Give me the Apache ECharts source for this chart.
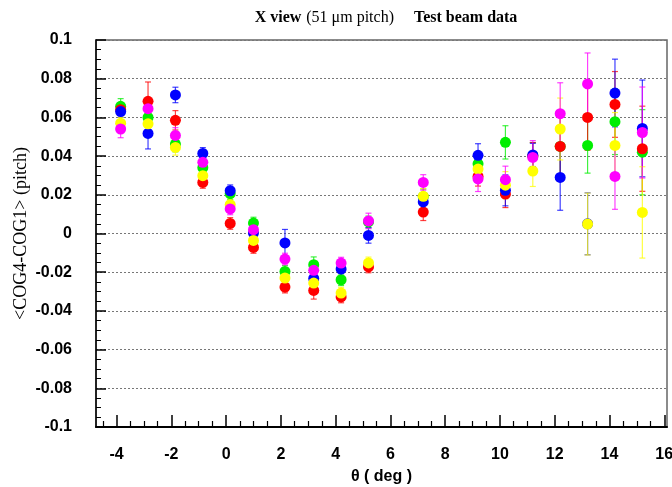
<!DOCTYPE html>
<html>
<head>
<meta charset="utf-8">
<script src="https://cdn.jsdelivr.net/npm/echarts@6/dist/echarts.min.js"></script>
<style>
  html, body { margin: 0; padding: 0; background: #fff; }
  #chart { width: 672px; height: 487px; }
</style>
</head>
<body>
<div id="chart"></div>
<script>
// angle positions (deg)
var theta = [-3.85, -2.85, -1.85, -0.85, 0.15, 1.0, 2.15, 3.2, 4.2, 5.2, 7.2, 9.2, 10.2, 11.2, 12.2, 13.2, 14.2, 15.2];

var greenVals = [0.0657, 0.060, 0.0462, 0.034, 0.0206, 0.0054, -0.0196, -0.0161, -0.0239, 0.006, 0.019, 0.036, 0.0471, 0.040, 0.045, 0.0455, 0.0578, 0.042];
var greenErr = [0.004, 0.004, 0.004, 0.003, 0.003, 0.003, 0.003, 0.004, 0.003, 0.003, 0.004, 0.006, 0.0086, 0.007, 0.016, 0.0143, 0.017, 0.022];

var redVals = [0.064, 0.0683, 0.0585, 0.0264, 0.0052, -0.0072, -0.0277, -0.0294, -0.0328, -0.0173, 0.0111, 0.0295, 0.0204, 0.040, 0.045, 0.060, 0.0667, 0.0438];
var redErr = [0.003, 0.010, 0.005, 0.003, 0.003, 0.003, 0.003, 0.0045, 0.003, 0.003, 0.0044, 0.005, 0.007, 0.007, 0.015, 0.017, 0.017, 0.022];

var blueVals = [0.063, 0.0517, 0.0716, 0.0414, 0.0221, 0.0002, -0.0049, -0.0232, -0.0184, -0.001, 0.0163, 0.0404, 0.0223, 0.0406, 0.029, 0.005, 0.0726, 0.0543];
var blueErr = [0.003, 0.008, 0.004, 0.003, 0.003, 0.003, 0.007, 0.004, 0.004, 0.004, 0.004, 0.006, 0.008, 0.006, 0.017, 0.016, 0.0175, 0.025];

var yellowVals = [0.057, 0.0567, 0.0445, 0.0299, 0.0149, -0.0036, -0.023, -0.0256, -0.0308, -0.0152, 0.0192, 0.0333, 0.025, 0.0323, 0.054, 0.0049, 0.0455, 0.0109];
var yellowErr = [0.003, 0.004, 0.004, 0.003, 0.003, 0.003, 0.004, 0.003, 0.003, 0.003, 0.004, 0.006, 0.007, 0.008, 0.016, 0.016, 0.017, 0.0236];

var magentaVals = [0.054, 0.0645, 0.0507, 0.0368, 0.0127, 0.002, -0.0132, -0.019, -0.0153, 0.0065, 0.0264, 0.0282, 0.0278, 0.0393, 0.0619, 0.0773, 0.0295, 0.0522];
var magentaErr = [0.0045, 0.004, 0.004, 0.003, 0.003, 0.003, 0.003, 0.004, 0.003, 0.004, 0.004, 0.0065, 0.007, 0.0087, 0.016, 0.016, 0.017, 0.0235];

var xMajor = [-4, -2, 0, 2, 4, 6, 8, 10, 12, 14, 16];
var xMinor = [-4.5, -3.5, -3, -2.5, -1.5, -1, -0.5, 0.5, 1, 1.5, 2.5, 3, 3.5, 4.5, 5, 5.5, 6.5, 7, 7.5, 8.5, 9, 9.5, 10.5, 11, 11.5, 12.5, 13, 13.5, 14.5, 15, 15.5];

var groups = [
    { name: 'green', color: '#00ee00', vals: greenVals, err: greenErr },
    { name: 'red', color: '#ff0000', vals: redVals, err: redErr },
    { name: 'blue', color: '#0000ff', vals: blueVals, err: blueErr },
    { name: 'yellow', color: '#ffff00', vals: yellowVals, err: yellowErr },
    { name: 'magenta', color: '#ff00ff', vals: magentaVals, err: magentaErr }
];

function errBar(color) {
    return function(params, api) {
        var x = api.value(0), y = api.value(1), e = api.value(2);
        var top = api.coord([x, y + e]);
        var bot = api.coord([x, y - e]);
        var st = { stroke: color, lineWidth: 1.2, opacity: 0.75 };
        return {
            type: 'group',
            children: [
                { type: 'line', shape: { x1: top[0], y1: top[1], x2: bot[0], y2: bot[1] }, style: st },
                { type: 'line', shape: { x1: top[0] - 3, y1: top[1], x2: top[0] + 3, y2: top[1] }, style: st },
                { type: 'line', shape: { x1: bot[0] - 3, y1: bot[1], x2: bot[0] + 3, y2: bot[1] }, style: st }
            ]
        };
    };
}

var series = [];
groups.forEach(function(g) {
    var d = theta.map(function(t, i) { return [t, g.vals[i], g.err[i]]; });
    series.push({
        name: g.name + ' err',
        type: 'custom',
        renderItem: errBar(g.color),
        data: d,
        encode: { x: 0, y: 1 },
        silent: true
    });
    series.push({
        name: g.name,
        type: 'scatter',
        symbol: 'circle',
        symbolSize: 11,
        itemStyle: { color: g.color, opacity: 1 },
        data: d.map(function(p) { return [p[0], p[1]]; })
    });
});

var labelFont = { fontFamily: 'Liberation Sans', fontWeight: 'bold', fontSize: 16, color: '#000' };

var myChart = echarts.init(document.getElementById('chart'));
var option = {
    animation: false,
    backgroundColor: '#fff',
    title: {
        text: '{b|X view} {n|(51 μm pitch)}    {b|Test beam data}',
        left: 381,
        top: 4,
        textAlign: 'center',
        textStyle: {
            rich: {
                b: { fontFamily: 'Liberation Serif', fontWeight: 'bold', fontSize: 16, color: '#000' },
                n: { fontFamily: 'Liberation Serif', fontWeight: 'normal', fontSize: 16, color: '#000' }
            }
        }
    },
    grid: {
        left: 96,
        right: 5,
        top: 40,
        bottom: 60,
        containLabel: false,
        outerBoundsMode: 'none',
        show: true,
        borderColor: '#666',
        borderWidth: 1.5
    },
    xAxis: [{
        type: 'value',
        min: -4.75,
        max: 16.1,
        name: 'θ ( deg )',
        nameLocation: 'middle',
        nameGap: 42,
        nameMoveOverlap: false,
        nameTextStyle: labelFont,
        axisLine: { show: true, onZero: false, lineStyle: { color: '#000', width: 2 } },
        axisTick: { show: true, inside: true, length: 12, customValues: xMajor, lineStyle: { color: '#000', width: 1.5 } },
        axisLabel: Object.assign({ customValues: xMajor, margin: 20 }, labelFont),
        splitLine: { show: false }
    }, {
        type: 'value',
        min: -4.75,
        max: 16.1,
        position: 'bottom',
        axisLine: { show: false, onZero: false },
        axisTick: { show: true, inside: true, length: 6, customValues: xMinor, lineStyle: { color: '#000', width: 1.2 } },
        axisLabel: { show: false },
        splitLine: { show: false }
    }],
    yAxis: {
        type: 'value',
        min: -0.1,
        max: 0.1,
        interval: 0.02,
        name: '<COG4-COG1> (pitch)',
        nameLocation: 'middle',
        nameGap: 66,
        nameMoveOverlap: false,
        nameTextStyle: { fontFamily: 'Liberation Serif', fontSize: 18, color: '#000' },
        axisLine: { show: true, onZero: false, lineStyle: { color: '#000', width: 1.5 } },
        axisTick: { show: true, inside: true, length: 10, lineStyle: { color: '#000', width: 1.5 } },
        minorTick: { show: true, splitNumber: 4, length: 5, lineStyle: { color: '#000', width: 1 } },
        axisLabel: Object.assign({ margin: 24 }, labelFont),
        splitLine: { show: true, lineStyle: { color: '#777', type: [2, 2], width: 1 } }
    },
    series: series
};
myChart.setOption(option);
</script>
</body>
</html>
